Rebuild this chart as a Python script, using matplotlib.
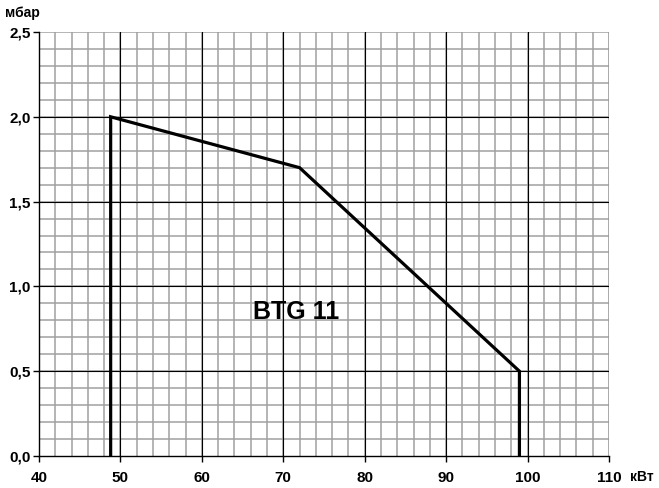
import matplotlib
matplotlib.use("Agg")
import matplotlib.pyplot as plt
import numpy as np

# curve of the burner working range
power_kw = [48.8, 48.8, 72, 99, 99]
pressure_mbar = [0.0, 2.0, 1.7, 0.5, 0.0]

x_ticks = [40, 50, 60, 70, 80, 90, 100, 110]
y_ticks = [0.0, 0.5, 1.0, 1.5, 2.0, 2.5]
y_labels = ["0,0", "0,5", "1,0", "1,5", "2,0", "2,5"]

plt.rcParams["font.family"] = ["Liberation Sans", "DejaVu Sans"]

fig = plt.figure(figsize=(6.59, 4.88), dpi=100)
ax = fig.add_axes([39 / 659, 1 - 456 / 488, 570 / 659, 424 / 488])

ax.set_xlim(40, 110)
ax.set_ylim(0, 2.5)

# grid: grey minor, black major
for xv in np.arange(42, 111, 2):
    ax.axvline(xv, color="#a0a0a0", lw=1.1, zorder=1)
for yv in np.arange(0.1, 2.51, 0.1):
    ax.axhline(yv, color="#a0a0a0", lw=1.1, zorder=1)
for xv in x_ticks[1:]:
    ax.axvline(xv, color="black", lw=0.8, zorder=2)
for yv in y_ticks[1:-1]:
    ax.axhline(yv, color="black", lw=0.8, zorder=2)

ax.plot(power_kw, pressure_mbar, color="black", lw=2.3, zorder=3,
        solid_joinstyle="miter")

ax.spines["top"].set_visible(False)
ax.spines["right"].set_visible(False)
ax.spines["left"].set_linewidth(1.0)
ax.spines["bottom"].set_linewidth(1.0)

ax.set_xticks(x_ticks)
ax.set_xticklabels([str(v) for v in x_ticks], fontsize=11, fontweight="bold")
ax.set_yticks(y_ticks)
ax.set_yticklabels(y_labels, fontsize=11, fontweight="bold")
ax.tick_params(axis="x", length=4, width=1, pad=7)
ax.tick_params(axis="y", length=4, width=1, pad=2)

ax.text(71.6, 0.85, "BTG 11", fontsize=18, fontweight="bold",
        ha="center", va="center", zorder=4)

fig.text(5 / 659, 1 - 13 / 488, "мбар", fontsize=10, fontweight="bold",
         ha="left", va="center")
fig.text(630 / 659, 1 - 477 / 488, "кВт", fontsize=10, fontweight="bold",
         ha="left", va="center")

fig.savefig("out.png", dpi=100, facecolor="white")
